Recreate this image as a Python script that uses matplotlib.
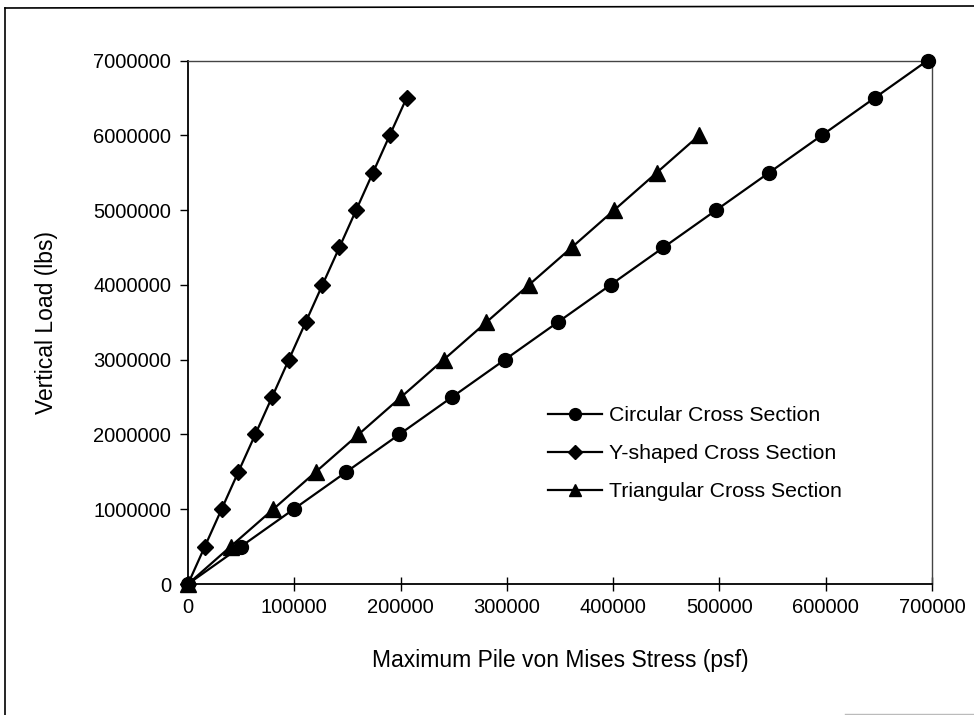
import matplotlib
matplotlib.use("Agg")
import matplotlib.pyplot as plt
from matplotlib.lines import Line2D

plt.rcParams['font.family'] = ['Liberation Sans', 'DejaVu Sans']

# vertical load steps (lbs)
load_circ = [0, 500000, 1000000, 1500000, 2000000, 2500000, 3000000, 3500000,
             4000000, 4500000, 5000000, 5500000, 6000000, 6500000, 7000000]
load_y = [0, 500000, 1000000, 1500000, 2000000, 2500000, 3000000, 3500000,
          4000000, 4500000, 5000000, 5500000, 6000000, 6500000]
load_tri = [0, 500000, 1000000, 1500000, 2000000, 2500000, 3000000, 3500000,
            4000000, 4500000, 5000000, 5500000, 6000000]

# max von Mises stress in the pile (psf)
stress_circ = [0, 49700, 99400, 149100, 198800, 248500, 298200, 347900,
               397600, 447300, 497000, 546700, 596400, 646100, 695800]
stress_y = [0, 15800, 31600, 47400, 63300, 79100, 94900, 110700,
            126500, 142400, 158200, 174000, 189800, 205700]
stress_tri = [0, 40000, 80200, 120300, 160400, 200500, 240600, 280700,
              320800, 361000, 401000, 441000, 481000]

labels = ['Circular Cross Section', 'Y-shaped Cross Section',
          'Triangular Cross Section']

W, H = 974, 715
fig = plt.figure(figsize=(W / 100, H / 100), dpi=100)
ax = fig.add_axes([188 / W, 1 - 584 / H, (932 - 188) / W, (584 - 60.5) / H])

lw = 1.6
ax.plot(stress_circ, load_circ, color='black', lw=lw, marker='o',
        markersize=10, label=labels[0], clip_on=False, zorder=3)
ax.plot(stress_y, load_y, color='black', lw=lw, marker='D',
        markersize=7.8, label=labels[1], clip_on=False, zorder=3)
ax.plot(stress_tri, load_tri, color='black', lw=lw, marker='^',
        markersize=11, label=labels[2], clip_on=False, zorder=3)

ax.set_xlim(0, 700000)
ax.set_ylim(0, 7000000)
ax.set_xticks(range(0, 700001, 100000))
ax.set_yticks(range(0, 7000001, 1000000))
ax.ticklabel_format(style='plain', useOffset=False)

ax.tick_params(axis='x', direction='inout', length=10, width=1.0,
               labelsize=14.5, pad=5)
ax.tick_params(axis='y', direction='out', length=6, width=1.0,
               labelsize=14.5, pad=6)

for side in ['left', 'bottom']:
    ax.spines[side].set_linewidth(1.3)
    ax.spines[side].set_color('black')
for side in ['top', 'right']:
    ax.spines[side].set_linewidth(1.0)
    ax.spines[side].set_color('#444444')

ax.set_xlabel('Maximum Pile von Mises Stress (psf)', fontsize=16.5)
ax.set_ylabel('Vertical Load (lbs)', fontsize=16.5)
ax.xaxis.set_label_coords(0.5, -0.125)
ax.yaxis.set_label_coords(-0.175, 0.5)

leg = ax.legend(loc='upper left', bbox_to_anchor=((548 - 188) / 744, (584 - 406) / 523.5),
                frameon=False, fontsize=15.3, handlelength=2.55,
                handletextpad=0.3, labelspacing=0.9, markerscale=0.85,
                borderaxespad=0, borderpad=0)

# page border around the figure
fig.add_artist(Line2D([5 / W, 5 / W], [0, 1 - 8 / H], color='black', lw=1.2))
fig.add_artist(Line2D([5 / W, 1], [1 - 8 / H, 1 - 6 / H], color='black', lw=1.2))
fig.add_artist(Line2D([845 / W, 1], [1.5 / H, 1.5 / H], color='#bbbbbb', lw=1.0))

fig.savefig('out.png', dpi=100)
